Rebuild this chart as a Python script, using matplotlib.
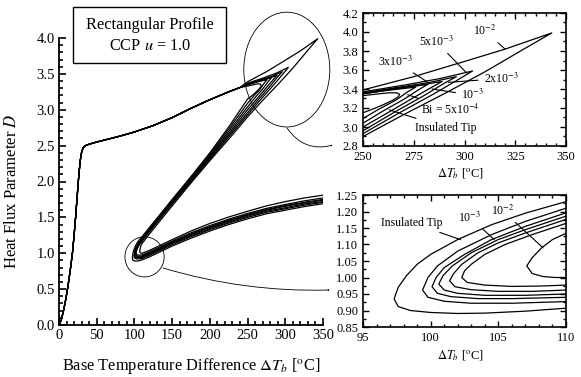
import matplotlib
matplotlib.use("Agg")
import matplotlib.pyplot as plt
from matplotlib.patches import Ellipse, Rectangle, FancyArrowPatch
from matplotlib.ticker import MultipleLocator

plt.rcParams['font.family'] = ['Liberation Serif', 'DejaVu Serif']
plt.rcParams['mathtext.fontset'] = 'stix'

# ---------------- data ----------------
# shared rise + upper branch (all Bi values coincide here)
T_common = [0, 3, 6, 9, 12, 15, 18, 20, 22, 24, 26, 28, 30, 32, 35, 40, 50, 65, 80, 100, 125, 150, 175, 200, 225, 240]
D_common = [0, 0.07, 0.2, 0.36, 0.55, 0.77, 1.02, 1.25, 1.5, 1.78, 2.05, 2.28, 2.41, 2.47, 2.5, 2.52, 2.55, 2.59, 2.63, 2.69, 2.78, 2.89, 3.02, 3.14, 3.25, 3.31]

T_ins = [250, 258, 263, 266.5, 268, 267.5, 265, 260, 255, 250, 225, 200, 175, 150, 130, 120, 110, 107, 104.5, 102, 100, 99, 98.2, 97.6, 97.3, 97.6, 98.5, 100, 102, 104, 107, 110, 120, 135, 150, 175, 200, 225, 250, 275, 300, 325, 350]
D_ins = [3.33, 3.35, 3.36, 3.36, 3.345, 3.32, 3.285, 3.235, 3.19, 3.15, 2.76, 2.40, 2.07, 1.75, 1.49, 1.36, 1.23, 1.195, 1.16, 1.115, 1.07, 1.04, 1.005, 0.97, 0.935, 0.912, 0.9, 0.894, 0.891, 0.892, 0.898, 0.907, 0.95, 1.025, 1.1, 1.21, 1.31, 1.40, 1.48, 1.55, 1.60, 1.65, 1.69]

T_5e4 = [250, 260, 268, 276, 272, 266, 258, 250, 225, 200, 175, 150, 130, 120, 110, 107, 104.5, 102, 100.5, 99.8, 99.4, 99.8, 101, 103, 106, 110, 120, 135, 150, 175, 200, 225, 250, 275, 300, 325, 350]
D_5e4 = [3.35, 3.38, 3.40, 3.42, 3.37, 3.28, 3.19, 3.09, 2.73, 2.38, 2.055, 1.735, 1.475, 1.345, 1.21, 1.17, 1.13, 1.08, 1.035, 1.0, 0.962, 0.94, 0.928, 0.922, 0.922, 0.927, 0.97, 1.045, 1.12, 1.23, 1.33, 1.42, 1.50, 1.57, 1.62, 1.67, 1.71]

T_1e3 = [250, 262, 272, 282, 278, 270, 260, 250, 225, 200, 175, 150, 130, 120, 110, 107, 104.5, 102.5, 101, 100.4, 100.1, 100.5, 101.5, 103.5, 106, 110, 120, 135, 150, 175, 200, 225, 250, 275, 300, 325, 350]
D_1e3 = [3.35, 3.39, 3.42, 3.45, 3.40, 3.29, 3.17, 3.04, 2.70, 2.36, 2.04, 1.72, 1.46, 1.33, 1.196, 1.155, 1.115, 1.07, 1.03, 1.0, 0.972, 0.952, 0.942, 0.936, 0.936, 0.94, 0.985, 1.06, 1.135, 1.245, 1.345, 1.435, 1.515, 1.585, 1.635, 1.685, 1.72]

T_2e3 = [250, 265, 278, 289, 284, 275, 263, 250, 225, 200, 175, 150, 130, 120, 110, 107, 105, 103, 101.6, 100.9, 100.6, 101, 102, 104, 107, 110, 120, 135, 150, 175, 200, 225, 250, 275, 300, 325, 350]
D_2e3 = [3.35, 3.40, 3.44, 3.48, 3.42, 3.31, 3.16, 3.0, 2.67, 2.345, 2.025, 1.71, 1.45, 1.32, 1.186, 1.145, 1.115, 1.075, 1.035, 1.005, 0.98, 0.962, 0.952, 0.946, 0.946, 0.95, 0.995, 1.07, 1.145, 1.26, 1.36, 1.45, 1.53, 1.60, 1.655, 1.70, 1.74]

T_3e3 = [250, 268, 283, 296, 290, 280, 265, 250, 225, 200, 175, 150, 130, 120, 110, 107, 105, 103.5, 102.3, 101.7, 101.4, 101.8, 103, 105, 107.5, 110, 120, 135, 150, 175, 200, 225, 250, 275, 300, 325, 350]
D_3e3 = [3.36, 3.42, 3.47, 3.53, 3.46, 3.33, 3.15, 2.96, 2.645, 2.33, 2.01, 1.70, 1.44, 1.31, 1.176, 1.135, 1.105, 1.075, 1.04, 1.012, 0.99, 0.972, 0.963, 0.958, 0.958, 0.962, 1.005, 1.08, 1.155, 1.27, 1.37, 1.46, 1.54, 1.61, 1.665, 1.71, 1.75]

T_5e3 = [250, 270, 288, 304, 297, 285, 268, 250, 225, 200, 175, 150, 130, 120, 110, 107.5, 105.5, 104, 103, 102.5, 102.3, 102.7, 104, 106, 108, 110, 120, 135, 150, 175, 200, 225, 250, 275, 300, 325, 350]
D_5e3 = [3.37, 3.44, 3.51, 3.59, 3.50, 3.35, 3.15, 2.93, 2.62, 2.31, 1.995, 1.685, 1.43, 1.30, 1.164, 1.13, 1.1, 1.07, 1.04, 1.02, 1.0, 0.985, 0.977, 0.973, 0.974, 0.977, 1.02, 1.095, 1.17, 1.285, 1.385, 1.475, 1.555, 1.625, 1.68, 1.73, 1.77]

T_1e2 = [250, 275, 300, 320, 343, 330, 310, 290, 270, 250, 225, 200, 175, 150, 130, 120, 110, 109, 108.2, 107.5, 107.1, 107.5, 108.3, 109.2, 110, 120, 135, 150, 175, 200, 225, 250, 275, 300, 325, 350]
D_1e2 = [3.39, 3.53, 3.69, 3.82, 3.99, 3.83, 3.58, 3.35, 3.13, 2.90, 2.59, 2.29, 1.98, 1.66, 1.40, 1.27, 1.134, 1.115, 1.09, 1.06, 1.035, 1.012, 1.003, 1.0, 1.0, 1.04, 1.115, 1.19, 1.31, 1.415, 1.505, 1.585, 1.66, 1.72, 1.77, 1.81]

curves = [(T_ins, D_ins), (T_5e4, D_5e4), (T_1e3, D_1e3), (T_2e3, D_2e3),
          (T_3e3, D_3e3), (T_5e3, D_5e3), (T_1e2, D_1e2)]

main_xticks = [0, 50, 100, 150, 200, 250, 300, 350]
main_yticks = [0.0, 0.5, 1.0, 1.5, 2.0, 2.5, 3.0, 3.5, 4.0]
in1_xticks = [250, 275, 300, 325, 350]
in1_yticks = [2.8, 3.0, 3.2, 3.4, 3.6, 3.8, 4.0, 4.2]
in2_xticks = [95, 100, 105, 110]
in2_yticks = [0.85, 0.90, 0.95, 1.00, 1.05, 1.10, 1.15, 1.20, 1.25]

# ---------------- figure ----------------
W, H = 581, 377
fig = plt.figure(figsize=(W / 100, H / 100), dpi=100)

def fr(x0, y0, x1, y1):
    return [x0 / W, 1 - y1 / H, (x1 - x0) / W, (y1 - y0) / H]

ax = fig.add_axes(fr(59, 38, 323, 325))
ax1 = fig.add_axes(fr(363, 13, 566, 146))
ax2 = fig.add_axes(fr(363, 195, 566, 327))

lw = 0.9
for a in (ax, ax1, ax2):
    for T, D in curves:
        a.plot(list(T_common) + list(T), list(D_common) + list(D), color='black',
               lw=lw, solid_joinstyle='round')

# main axes
ax.set_xlim(0, 350)
ax.set_ylim(0, 4.0)
ax.set_xticks(main_xticks)
ax.set_xticklabels([str(v) for v in main_xticks])
ax.set_yticks(main_yticks)
ax.set_yticklabels(['%.1f' % v for v in main_yticks])
ax.xaxis.set_minor_locator(MultipleLocator(10))
ax.yaxis.set_minor_locator(MultipleLocator(0.1))
ax.spines['top'].set_visible(False)
ax.spines['right'].set_visible(False)
ax.tick_params(which='both', direction='in', top=False, right=False, labelsize=10.5, width=1.2, pad=3)
ax.tick_params(which='major', length=5)
ax.tick_params(which='minor', length=3)
for s in ('left', 'bottom'):
    ax.spines[s].set_linewidth(1.3)
ax.set_xlabel(r'Base Temperature Difference $\Delta T_b$ [$^{\mathrm{o}}$C]', fontsize=11.8)
ax.xaxis.set_label_coords(0.502, -0.108)
ax.set_ylabel(r'Heat Flux Parameter $D$', fontsize=12)
ax.yaxis.set_label_coords(-0.148, 0.467)

# inset 1
ax1.set_xlim(250, 350)
ax1.set_ylim(2.8, 4.2)
ax1.set_xticks(in1_xticks)
ax1.set_xticklabels([str(v) for v in in1_xticks])
ax1.set_yticks(in1_yticks)
ax1.set_yticklabels(['%.1f' % v for v in in1_yticks])
ax1.xaxis.set_minor_locator(MultipleLocator(5))
ax1.yaxis.set_minor_locator(MultipleLocator(0.1))
ax1.set_xlabel(r'$\Delta T_b$ [$^{\mathrm{o}}$C]', fontsize=9)
ax1.xaxis.set_label_coords(0.478, -0.155)

# inset 2
ax2.set_xlim(95, 110)
ax2.set_ylim(0.85, 1.25)
ax2.set_xticks(in2_xticks)
ax2.set_xticklabels([str(v) for v in in2_xticks])
ax2.set_yticks(in2_yticks)
ax2.set_yticklabels(['%.2f' % v for v in in2_yticks])
ax2.xaxis.set_minor_locator(MultipleLocator(1))
ax2.yaxis.set_minor_locator(MultipleLocator(0.025))
ax2.set_xlabel(r'$\Delta T_b$ [$^{\mathrm{o}}$C]', fontsize=9)
ax2.xaxis.set_label_coords(0.478, -0.165)

for a in (ax1, ax2):
    a.tick_params(which='both', direction='in', top=True, right=True, labelsize=9, width=1.0)
    a.tick_params(which='major', length=4)
    a.tick_params(which='minor', length=2.5)
    for s in a.spines.values():
        s.set_linewidth(1.2)

# inset 1 labels
lab_kw = dict(fontsize=8.5, ha='center', va='center',
              arrowprops=dict(arrowstyle='-', lw=0.8, color='black', shrinkA=2, shrinkB=0))
ax1.annotate(r'10$^{-2}$', xy=(320, 3.82), xytext=(310, 4.01), **lab_kw)
ax1.annotate(r'5x10$^{-3}$', xy=(301, 3.57), xytext=(286, 3.9), **lab_kw)
ax1.annotate(r'3x10$^{-3}$', xy=(282, 3.47), xytext=(266, 3.69), **lab_kw)
ax1.annotate(r'2x10$^{-3}$', xy=(292, 3.47), xytext=(318, 3.51), **lab_kw)
ax1.annotate(r'10$^{-3}$', xy=(284, 3.40), xytext=(304, 3.335), **lab_kw)
ax1.annotate(r'Bi = 5x10$^{-4}$', xy=(272, 3.34), xytext=(293, 3.185), **lab_kw)
ax1.annotate('Insulated Tip', xy=(263, 3.18), xytext=(291, 2.99), **lab_kw)

# inset 2 labels
ax2.annotate('Insulated Tip', xy=(102.2, 1.115), xytext=(98.6, 1.166), **lab_kw)
ax2.annotate(r'10$^{-3}$', xy=(104.7, 1.115), xytext=(102.9, 1.182), **lab_kw)
ax2.annotate(r'10$^{-2}$', xy=(108.3, 1.09), xytext=(105.3, 1.203), **lab_kw)

# ellipses on main axes
ax.add_patch(Ellipse((302, 3.56), 114, 1.6, fill=False, lw=0.6, color='black', clip_on=False))
ax.add_patch(Ellipse((113.4, 0.95), 52, 0.56, fill=False, lw=0.6, color='black', clip_on=False))

# arrows from ellipses towards the insets
arrow_kw = dict(arrowstyle='-|>,head_length=0.5,head_width=0.18', lw=0.6, color='black',
                shrinkA=0, shrinkB=0)
fig.add_artist(FancyArrowPatch((287 / W, 1 - 128 / H), (333 / W, 1 - 145 / H),
               transform=fig.transFigure, connectionstyle='arc3,rad=0.35', **arrow_kw))
fig.add_artist(FancyArrowPatch((163 / W, 1 - 268 / H), (330 / W, 1 - 290 / H),
               transform=fig.transFigure, connectionstyle='arc3,rad=0.08', **arrow_kw))

# title box
fig.add_artist(Rectangle((73 / W, 1 - 63 / H), (226 - 73) / W, (63 - 7) / H,
               transform=fig.transFigure, fill=True, fc='white', ec='black', lw=1.0))
fig.text(150 / W, 1 - 25 / H, 'Rectangular Profile', ha='center', va='center', fontsize=11.8)
fig.text(150 / W, 1 - 46 / H, 'CCP $u$ = 1.0', ha='center', va='center', fontsize=11.8)

fig.savefig('out.png', dpi=100)
